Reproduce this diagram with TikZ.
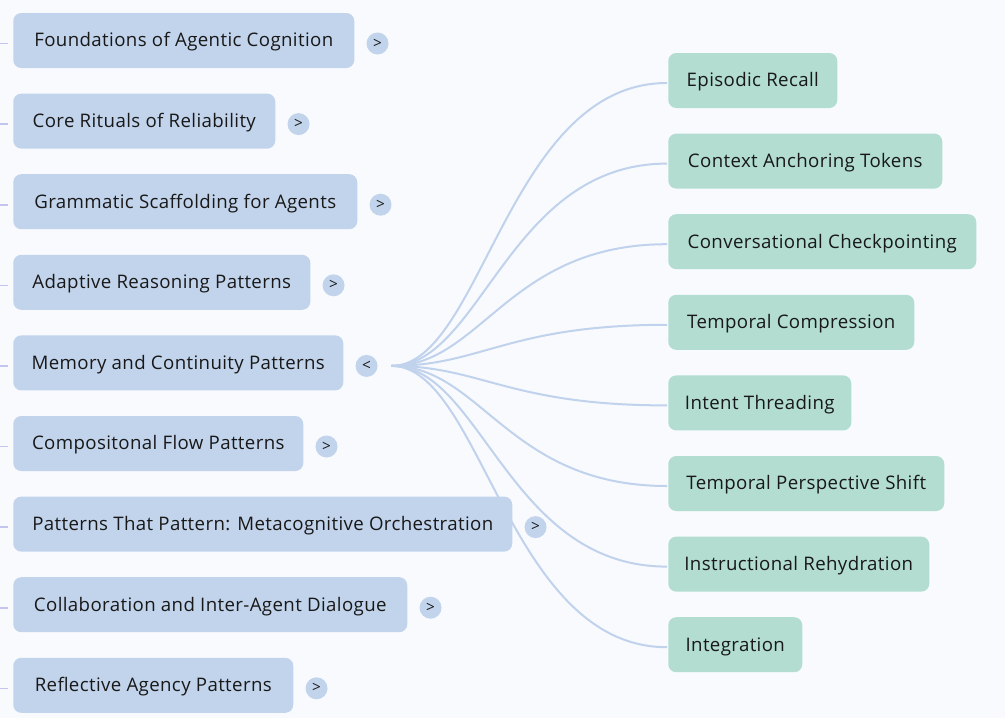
\documentclass[tikz,border=0pt]{standalone}
\usepackage{fontspec}
\setmainfont{Open Sans}[LetterSpace=2]
\usetikzlibrary{calc}
\pgfdeclarelayer{bg}
\pgfsetlayers{bg,main}
\definecolor{bgc}{RGB}{248,250,254}
\definecolor{boxblue}{RGB}{194,212,236}
\definecolor{boxgreen}{RGB}{178,221,208}
\definecolor{linkc}{RGB}{192,210,236}
\definecolor{stubc}{RGB}{196,196,240}
\definecolor{txt}{RGB}{24,24,24}
\tikzset{
  lbox/.style={fill=boxblue, rounded corners=6pt, minimum height=41.25pt, inner xsep=6pt, text height=12pt, text depth=2.5pt, anchor=west, text=txt, font=\fontsize{14}{16}\selectfont},
  rbox/.style={lbox, fill=boxgreen},
  btn/.style={circle, fill=boxblue, minimum size=16.5pt, inner sep=0pt, text=txt, font=\fontsize{11.5}{12}\selectfont},
  link/.style={draw=linkc, line width=1.5pt},
  stub/.style={draw=stubc, line width=1.2pt}
}
\begin{document}
\begin{tikzpicture}[x=0.75pt,y=-0.75pt]
\useasboundingbox (0,0) rectangle (1005,718);
\begin{pgfonlayer}{bg}
\fill[bgc] (0,0) rectangle (1005,718);
\end{pgfonlayer}
% left column
\node[lbox, minimum width=255.75pt] (l1) at (13,40.5) {Foundations of Agentic Cognition};
\node[lbox, minimum width=196.5pt] (l2) at (13,121.1) {Core Rituals of Reliability};
\node[lbox, minimum width=258pt] (l3) at (13,201.7) {Grammatic Scaffolding for Agents};
\node[lbox, minimum width=222.75pt] (l4) at (13,282.3) {Adaptive Reasoning Patterns};
\node[lbox, minimum width=247.5pt] (l5) at (13,362.9) {Memory and Continuity Patterns};
\node[lbox, minimum width=217.5pt] (l6) at (13,443.5) {Compositonal Flow Patterns};
\node[lbox, minimum width=374.25pt] (l7) at (13,524.1) {Patterns That Pattern: Metacognitive Orchestration};
\node[lbox, minimum width=295.5pt] (l8) at (13,604.7) {Collaboration and Inter-Agent Dialogue};
\node[lbox, minimum width=210pt] (l9) at (13,685.3) {Reflective Agency Patterns};
% buttons
\foreach \i/\s in {1/>,2/>,3/>,4/>,5/<,6/>,7/>,8/>,9/>}{
  \node[btn] (b\i) at ($(l\i.east)+(23,3)$) {\s};
  \coordinate (s\i) at ($(l\i.west)+(-13,3)$);
  \draw[stub] (s\i) -- ++(8,0);
}
% right column
\node[rbox, minimum width=126.75pt] (r1) at (668,80.5) {Episodic Recall};
\node[rbox, minimum width=205.5pt] (r2) at (668,161.1) {Context Anchoring Tokens};
\node[rbox, minimum width=231pt] (r3) at (668,241.7) {Conversational Checkpointing};
\node[rbox, minimum width=184.5pt] (r4) at (668,322.3) {Temporal Compression};
\node[rbox, minimum width=137.25pt] (r5) at (668,402.9) {Intent Threading};
\node[rbox, minimum width=207pt] (r6) at (668,483.5) {Temporal Perspective Shift};
\node[rbox, minimum width=195.75pt] (r7) at (668,564.1) {Instructional Rehydration};
\node[rbox, minimum width=100.5pt] (r8) at (668,644.7) {Integration};
% links
\coordinate (hub) at ($(b5)+(25,0)$);
\begin{pgfonlayer}{bg}
\foreach \j in {1,...,8}{
  \draw[link] (hub) .. controls ($(hub)+(90,0)$) and ($(r\j.west)+(-160,2.5)$) .. ($(r\j.west)+(-1,2.5)$);
}
\end{pgfonlayer}
\end{tikzpicture}
\end{document}
